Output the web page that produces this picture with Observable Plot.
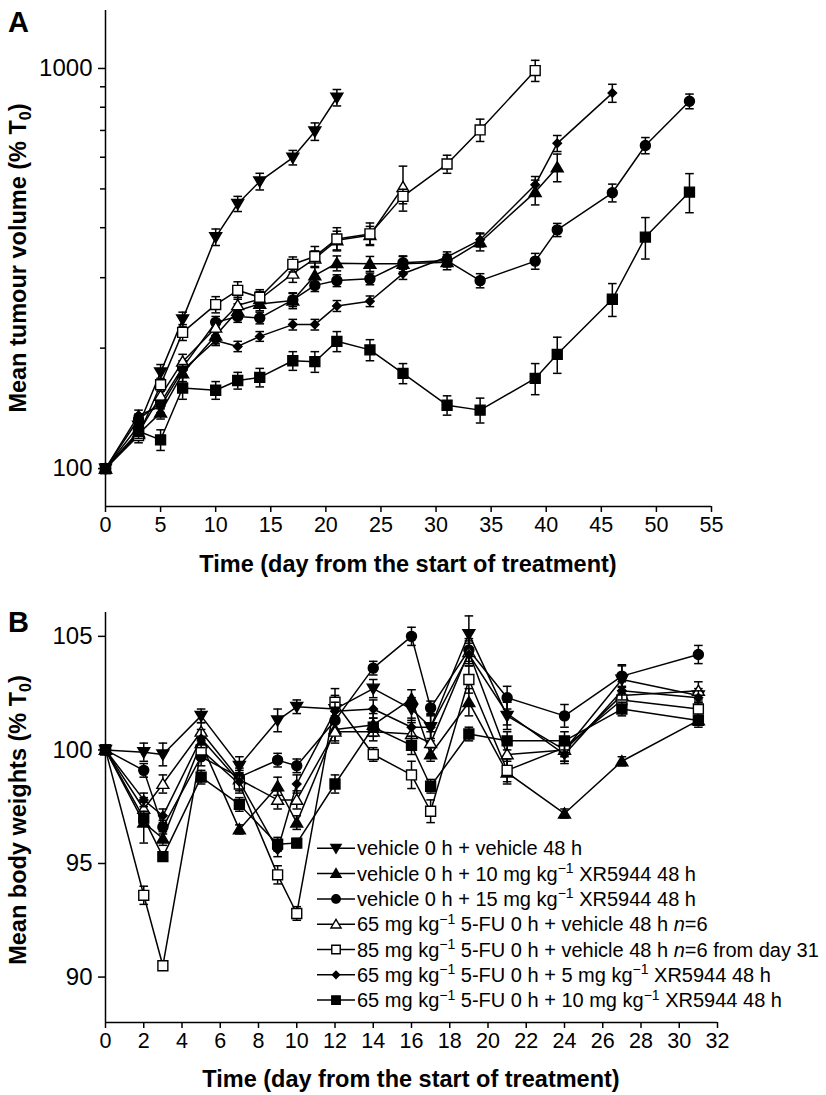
<!DOCTYPE html>
<html><head><meta charset="utf-8">
<script src="https://cdn.jsdelivr.net/npm/d3@7"></script>
<script src="https://cdn.jsdelivr.net/npm/@observablehq/plot@0.6"></script>
<style>
body{margin:0;background:#fff;font-family:"Liberation Sans",Arial,sans-serif;}
#wrap{position:relative;width:826px;height:1095px;overflow:hidden;}
#a{position:absolute;left:0;top:0;}
#b{position:absolute;left:0;top:580px;}
svg{overflow:visible;}
</style></head><body><div id="wrap"><div id="a"></div><div id="b"></div></div>
<script>
// ---------------- DATA ----------------
const legendLabels = [
  "vehicle 0 h + vehicle 48 h",
  "vehicle 0 h + 10 mg kg^-1 XR5944 48 h",
  "vehicle 0 h + 15 mg kg^-1 XR5944 48 h",
  "65 mg kg^-1 5-FU 0 h + vehicle 48 h _n_=6",
  "85 mg kg^-1 5-FU 0 h + vehicle 48 h _n_=6 from day 31",
  "65 mg kg^-1 5-FU 0 h + 5 mg kg^-1 XR5944 48 h",
  "65 mg kg^-1 5-FU 0 h + 10 mg kg^-1 XR5944 48 h"
];

// Panel A: mean tumour volume (% T0)
const daysA_veh = [0,3,5,7,10,12,14,17,19,21];
const volA_veh  = [100,128,174,236,379,459,522,599,696,846];
const semA_veh  = [0,5,8,10,18,20,25,25,35,40];

const daysA_xr10 = [0,3,5,7,10,12,14,17,19,21,24,27,31,34,39,41];
const volA_xr10  = [100,122,138,173,215,248,258,263,304,326,325,325,328,368,491,566];
const semA_xr10  = [0,4,5,8,10,10,10,12,14,14,14,15,14,18,35,45];

const daysA_xr15 = [0,3,5,7,10,12,14,17,19,21,24,27,31,34,39,41,46,49,53];
const volA_xr15  = [100,133,146,179,232,240,238,264,287,295,298,327,331,295,330,395,489,642,828];
const semA_xr15  = [0,4,5,7,8,8,8,10,10,10,10,12,12,12,15,15,25,30,35];

const daysA_fu65 = [0,3,5,7,10,12,14,17,19,21,24,27];
const volA_fu65  = [100,123,152,185,225,256,265,307,335,372,383,505];
const semA_fu65  = [0,4,6,8,10,12,12,15,15,20,20,65];

const daysA_fu85 = [0,3,5,7,10,12,14,17,19,21,24,27,31,34,39];
const volA_fu85  = [100,121,162,219,257,279,268,324,339,375,386,479,577,702,988];
const semA_fu85  = [0,5,6,10,12,14,12,14,20,25,25,20,30,45,60];

const daysA_fu65xr5 = [0,3,5,7,10,12,14,17,19,21,24,27,31,34,39,41,46];
const volA_fu65xr5  = [100,136,143,176,209,202,214,229,229,255,262,307,338,373,512,650,868];
const semA_fu65xr5  = [0,4,5,6,6,6,6,7,7,8,8,10,10,15,25,30,45];

const daysA_fu65xr10 = [0,3,5,7,10,12,14,17,19,21,24,27,31,34,39,41,46,49,53];
const volA_fu65xr10  = [100,124,118,159,157,166,169,186,185,208,198,173,144,140,168,193,265,379,491];
const semA_fu65xr10  = [0,5,7,10,8,8,9,10,11,12,12,10,8,10,15,20,25,45,55];

const ticksXA = [0,5,10,15,20,25,30,35,40,45,50,55];
const ticksYA = [100,1000];
const minorYA = [200,300,400,500,600,700,800,900];

// Panel B: mean body weights (% T0)
const daysB = [0,2,3,5,7,9,10,12,14,16,17,19,21,24,27,31];
const wtB_veh       = [100,99.9,99.8,101.5,99.3,101.3,101.9,101.8,102.7,101.8,101.0,105.1,101.5,100.0,103.1,102.4];
const errB_veh      = [0,0.4,0.5,0.3,0.4,0.5,0.3,0.6,0.4,0.5,0.6,0.8,0.6,0.5,0.6,0.3];
const wtB_xr10      = [100,96.8,96.1,100.3,96.5,98.4,96.8,100.9,101.1,102.25,99.8,102.1,99.0,97.2,99.5,101.3];
const errB_xr10     = [0,0.9,0.3,0.4,0.2,0.4,0.3,0.5,0.5,0.4,0.3,0.6,0.5,0.2,0.2,0.3];
const wtB_xr15      = [100,99.1,96.6,99.7,98.8,99.55,99.3,101.3,103.6,105.0,101.85,104.4,102.3,101.5,103.25,104.2];
const errB_xr15     = [0,0.3,0.3,0.4,0.4,0.3,0.3,0.4,0.3,0.4,0.3,0.5,0.5,0.5,0.5,0.4];
const wtB_fu65      = [100,97.4,98.5,100.8,98.7,97.8,97.8,100.8,100.8,100.7,100.3,104.3,99.8,100.0,102.4,102.6];
const errB_fu65     = [0,0.5,0.4,0.4,0.4,0.4,0.4,0.5,0.4,0.5,0.5,0.5,0.5,0.5,0.4,0.4];
const wtB_fu85      = [100,93.6,90.5,100.0,98.5,94.5,92.8,102.1,99.8,98.9,97.3,103.1,99.1,100.1,102.2,101.8];
const errB_fu85     = [0,0.4,0.2,0.4,0.4,0.4,0.3,0.6,0.3,0.6,0.5,0.6,0.5,0.4,0.4,0.3];
const wtB_fu65xr5   = [100,97.8,97.1,100.5,98.6,95.6,98.5,101.7,101.8,101.0,101.0,104.2,101.6,99.8,102.6,102.3];
const errB_fu65xr5  = [0,0.3,0.3,0.4,0.4,0.3,0.4,0.4,0.4,0.4,0.5,0.5,0.5,0.4,0.4,0.3];
const wtB_fu65xr10  = [100,97.0,95.3,98.8,97.6,95.85,95.9,98.5,101.0,100.2,98.4,100.7,100.4,100.4,101.8,101.3];
const errB_fu65xr10 = [0,0.3,0.2,0.3,0.3,0.3,0.2,0.4,0.4,0.4,0.3,0.3,0.4,0.4,0.3,0.2];

const ticksXB = [0,2,4,6,8,10,12,14,16,18,20,22,24,26,28,30,32];
const ticksYB = [90,95,100,105];

// ---------------- STYLE ----------------
const FONT = "Liberation Sans, Arial, Helvetica, sans-serif";
const symbols = {
  triDown: {draw(c,s){const r=Math.sqrt(s/Math.PI); c.moveTo(-1.15*r,-0.85*r); c.lineTo(1.15*r,-0.85*r); c.lineTo(0,1.1*r); c.closePath();}},
  triUp:   {draw(c,s){const r=Math.sqrt(s/Math.PI); c.moveTo(-1.15*r,0.85*r); c.lineTo(1.15*r,0.85*r); c.lineTo(0,-1.1*r); c.closePath();}},
  circle:  {draw(c,s){const r=Math.sqrt(s/Math.PI); c.moveTo(r,0); c.arc(0,0,r,0,2*Math.PI);}},
  square:  {draw(c,s){const r=Math.sqrt(s/Math.PI)*0.92; c.moveTo(-r,-r); c.lineTo(r,-r); c.lineTo(r,r); c.lineTo(-r,r); c.closePath();}},
  diamond: {draw(c,s){const r=Math.sqrt(s/Math.PI)*0.85; c.moveTo(0,-r); c.lineTo(r,0); c.lineTo(0,r); c.lineTo(-r,0); c.closePath();}},
  cap:     {draw(c,s){const r=Math.sqrt(s/Math.PI); c.moveTo(-r,0); c.lineTo(r,0);}}
};
const seriesStyle = [
  {sym:"triDown", fill:"black", r:5.2},
  {sym:"triUp",   fill:"black", r:5.2},
  {sym:"circle",  fill:"black", r:5},
  {sym:"triUp",   fill:"white", r:5.2},
  {sym:"square",  fill:"white", r:5.4},
  {sym:"diamond", fill:"black", r:5},
  {sym:"square",  fill:"black", r:5.4}
];

const seriesA = [
  {days:daysA_veh, vals:volA_veh, sem:semA_veh},
  {days:daysA_xr10, vals:volA_xr10, sem:semA_xr10},
  {days:daysA_xr15, vals:volA_xr15, sem:semA_xr15},
  {days:daysA_fu65, vals:volA_fu65, sem:semA_fu65},
  {days:daysA_fu85, vals:volA_fu85, sem:semA_fu85},
  {days:daysA_fu65xr5, vals:volA_fu65xr5, sem:semA_fu65xr5},
  {days:daysA_fu65xr10, vals:volA_fu65xr10, sem:semA_fu65xr10}
];
const seriesB = [
  {days:daysB, vals:wtB_veh, sem:errB_veh},
  {days:daysB, vals:wtB_xr10, sem:errB_xr10},
  {days:daysB, vals:wtB_xr15, sem:errB_xr15},
  {days:daysB, vals:wtB_fu65, sem:errB_fu65},
  {days:daysB, vals:wtB_fu85, sem:errB_fu85},
  {days:daysB, vals:wtB_fu65xr5, sem:errB_fu65xr5},
  {days:daysB, vals:wtB_fu65xr10, sem:errB_fu65xr10}
];

function dataMarks(series){
  const rows = series.flatMap((s,k)=>s.days.map((d,i)=>({k, day:d, v:s.vals[i], sem:s.sem[i], lo:s.vals[i]-s.sem[i], hi:s.vals[i]+s.sem[i]})));
  const bars = rows.filter(r=>r.sem>0);
  const marks = [];
  series.forEach((s,k)=>{
    const rs = rows.filter(r=>r.k===k);
    const bs = bars.filter(r=>r.k===k);
    const st = seriesStyle[k];
    marks.push(
      Plot.line(rs,{x:"day",y:"v",stroke:"black",strokeWidth:1.5}),
      Plot.ruleX(bs,{x:"day",y1:"lo",y2:"hi",stroke:"black",strokeWidth:1.5}),
      Plot.dot(bs,{x:"day",y:"lo",symbol:symbols.cap,r:4.3,fill:"none",stroke:"black",strokeWidth:1.5}),
      Plot.dot(bs,{x:"day",y:"hi",symbol:symbols.cap,r:4.3,fill:"none",stroke:"black",strokeWidth:1.5}),
      Plot.dot(rs,{x:"day",y:"v",symbol:symbols[st.sym],r:st.r,fill:st.fill,stroke:"black",strokeWidth:1.4})
    );
  });
  return marks;
}

function addText(svg, x, y, parts, {size=23.5, weight="bold", rotate=false, anchor="middle"}={}){
  const t = svg.append("text").attr("font-family",FONT).attr("font-size",size).attr("font-weight",weight)
    .attr("fill","black").attr("text-anchor",anchor);
  if (rotate) t.attr("transform",`translate(${x},${y}) rotate(-90)`);
  else t.attr("x",x).attr("y",y);
  let pending = 0;
  for (const p of parts){
    if (typeof p === "string"){ const ts = t.append("tspan").text(p); if (pending){ ts.attr("dy",pending); pending = 0; } }
    else if (p.sub){ t.append("tspan").attr("font-size",size*0.68).attr("dy",size*0.22).text(p.sub); pending = -size*0.22; }
  }
  return t;
}

// ---------------- PANEL A ----------------
const yMinA = 80.4, yMaxA = 1396;
const plotA = Plot.plot({
  width:826, height:580, marginLeft:105, marginRight:115, marginTop:10, marginBottom:74,
  style:{fontFamily:FONT, fontSize:"22px", color:"black", background:"white"},
  x:{domain:[0,55]},
  y:{type:"log", domain:[yMinA,yMaxA]},
  marks:[
    Plot.axisX({ticks:ticksXA, tickSize:6, tickPadding:4, label:null, strokeWidth:1.5, fontSize:21.5, tickFormat:d3.format("d")}),
    Plot.axisY({ticks:ticksYA, tickSize:7, tickPadding:6, label:null, strokeWidth:1.5, fontSize:24, tickFormat:d3.format("d")}),
    Plot.axisY({ticks:minorYA, tickSize:5, label:null, strokeWidth:1.5, tickFormat:()=>""}),
    Plot.ruleX([0],{stroke:"black",strokeWidth:1.5}),
    Plot.ruleY([yMinA],{stroke:"black",strokeWidth:1.5}),
    ...dataMarks(seriesA)
  ]
});
document.getElementById("a").appendChild(plotA);
{
  const svg = d3.select(plotA);
  addText(svg, 8, 32, ["A"], {size:29, anchor:"start"});
  addText(svg, 408, 572, ["Time (day from the start of treatment)"]);
  addText(svg, 26, 258, ["Mean tumour volume (% T", {sub:"0"}, ")"], {rotate:true});
}

// ---------------- PANEL B ----------------
const yMinB = 88, yMaxB = 106.05;
const plotB = Plot.plot({
  width:826, height:515, marginLeft:105, marginRight:109, marginTop:32, marginBottom:73,
  style:{fontFamily:FONT, fontSize:"22px", color:"black", background:"white"},
  x:{domain:[0,32]},
  y:{domain:[yMinB,yMaxB]},
  marks:[
    Plot.axisX({ticks:ticksXB, tickSize:6, tickPadding:4, label:null, strokeWidth:1.5, fontSize:21.5, tickFormat:d3.format("d")}),
    Plot.axisY({ticks:ticksYB, tickSize:7, tickPadding:6, label:null, strokeWidth:1.5, fontSize:24, tickFormat:d3.format("d")}),
    Plot.ruleX([0],{stroke:"black",strokeWidth:1.5}),
    Plot.ruleY([yMinB],{stroke:"black",strokeWidth:1.5}),
    ...dataMarks(seriesB)
  ]
});
document.getElementById("b").appendChild(plotB);
{
  const svg = d3.select(plotB);
  addText(svg, 8, 52, ["B"], {size:29, anchor:"start"});
  addText(svg, 411, 507, ["Time (day from the start of treatment)"]);
  addText(svg, 26, 240, ["Mean body weights (% T", {sub:"0"}, ")"], {rotate:true});

  // legend
  const g = svg.append("g");
  const x0 = 317, x1 = 355, xm = 336, y0 = 268.3, dy = 25.3, fs = 20;
  legendLabels.forEach((lab,k)=>{
    const y = y0 + k*dy;
    g.append("line").attr("x1",x0).attr("x2",x1).attr("y1",y).attr("y2",y).attr("stroke","black").attr("stroke-width",1.5);
    const st = seriesStyle[k];
    const p = d3.path(); symbols[st.sym].draw(p, Math.PI*Math.pow(st.r*0.85,2));
    g.append("path").attr("d",p.toString()).attr("transform",`translate(${xm},${y})`).attr("fill",st.fill).attr("stroke","black").attr("stroke-width",1.4);
    const t = g.append("text").attr("x",x1+2).attr("y",y+7).attr("font-family",FONT).attr("font-size",fs)
      .attr("fill","black").attr("text-anchor","start");
    const parts = lab.split(/(\^-1|_n_)/);
    let raised = false;
    for (const part of parts){
      if (!part.length) continue;
      if (part === "^-1"){ t.append("tspan").attr("dy",-7.5).attr("font-size",fs*0.7).text("\u22121"); raised = true; }
      else {
        const ts = t.append("tspan").text(part === "_n_" ? "n" : part);
        if (part === "_n_") ts.attr("font-style","italic");
        if (raised){ ts.attr("dy",7.5); raised = false; }
      }
    }
  });
}
</script></body></html>
